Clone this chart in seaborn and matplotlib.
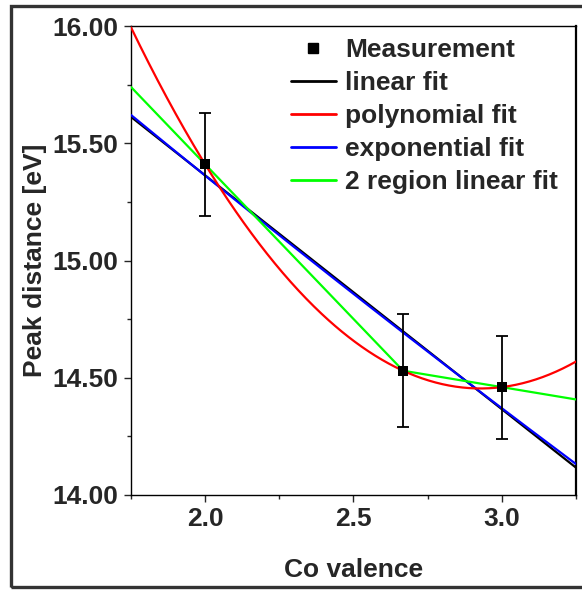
import numpy as np
import pandas as pd
import matplotlib
matplotlib.use("Agg")
import matplotlib.pyplot as plt
import seaborn as sns
from matplotlib.patches import Rectangle
from matplotlib.lines import Line2D
from matplotlib.ticker import MultipleLocator, FormatStrFormatter

# ---- data ----
co_valence = [2.0, 2.667, 3.0]
peak_distance = [15.41, 14.53, 14.46]
peak_error = [0.22, 0.24, 0.22]
x_ticks = [2.0, 2.5, 3.0]
y_ticks = [14.00, 14.50, 15.00, 15.50, 16.00]
series_names = ["linear fit", "polynomial fit", "exponential fit", "2 region linear fit"]
series_colors = ["#000000", "#ff0000", "#0000ff", "#00ff00"]

sns.set_theme(style="ticks")
plt.rcParams['font.family'] = ['Liberation Sans', 'DejaVu Sans']
plt.rcParams['font.weight'] = 'bold'

fig = plt.figure(figsize=(5.82, 5.90), dpi=100)
ax = fig.add_axes([131/582, 1-495/590, (576-131)/582, (495-26)/590])

x = np.array(co_valence)
y = np.array(peak_distance)
w = 1.0 / np.array(peak_error)
xs = np.linspace(1.75, 3.25, 400)

# fits computed from the measurement
lin = np.polyval(np.polyfit(x, y, 1, w=w), xs)
poly = np.polyval(np.polyfit(x, y, 2), xs)
expo = np.exp(np.polyval(np.polyfit(x, np.log(y), 1, w=w), xs))
two = np.where(xs <= x[1],
               y[0] + (y[1]-y[0])/(x[1]-x[0])*(xs-x[0]),
               y[1] + (y[2]-y[1])/(x[2]-x[1])*(xs-x[1]))

fits = {"linear fit": lin, "polynomial fit": poly, "exponential fit": expo, "2 region linear fit": two}
order = ["linear fit", "exponential fit", "2 region linear fit", "polynomial fit"]
for name in order:
    c = series_colors[series_names.index(name)]
    df = pd.DataFrame({"x": xs, "y": fits[name]})
    sns.lineplot(data=df, x="x", y="y", ax=ax, color=c, lw=1.6, zorder=3)

ax.errorbar(x, y, yerr=peak_error, fmt='none', ecolor='black', elinewidth=1.3,
            capsize=4, capthick=1.3, zorder=4)
sns.scatterplot(x=x, y=y, ax=ax, marker='s', s=55, color='black', edgecolor='black',
                linewidth=0, zorder=5)

ax.set_xlim(1.75, 3.25)
ax.set_ylim(14.0, 16.0)
ax.set_xticks(x_ticks)
ax.set_yticks(y_ticks)
ax.xaxis.set_minor_locator(MultipleLocator(0.25))
ax.yaxis.set_minor_locator(MultipleLocator(0.25))
ax.xaxis.set_major_formatter(FormatStrFormatter('%.1f'))
ax.yaxis.set_major_formatter(FormatStrFormatter('%.2f'))
ax.tick_params(which='major', direction='out', length=5, width=1, labelsize=19, pad=4)
ax.tick_params(which='minor', direction='out', length=3, width=1)
for lab in ax.get_xticklabels() + ax.get_yticklabels():
    lab.set_fontweight('bold')
for s in ax.spines.values():
    s.set_visible(True)
    s.set_linewidth(1.0)
    s.set_color('black')
ax.spines['right'].set_linewidth(1.6)

ax.set_xlabel("Co valence", fontsize=19, fontweight='bold', labelpad=19)
ax.set_ylabel("Peak distance [eV]", fontsize=19, fontweight='bold', labelpad=4)

handles = [Line2D([], [], marker='s', ls='none', color='black', markersize=7)]
for name, c in zip(series_names, series_colors):
    handles.append(Line2D([], [], color=c, lw=2))
ax.legend(handles, ["Measurement"] + series_names, loc='upper right',
          bbox_to_anchor=(0.986, 1.0), frameon=False, prop={'size': 19, 'weight': 'bold'},
          handlelength=1.7, handletextpad=0.35, labelspacing=0.34, borderaxespad=0.05)

fig.patches.append(Rectangle((11/582, 1-587/590), 1.0, (587-6)/590, transform=fig.transFigure,
                             fill=False, edgecolor='#333333', lw=2.4, zorder=0))

fig.savefig("out.png", dpi=100)
